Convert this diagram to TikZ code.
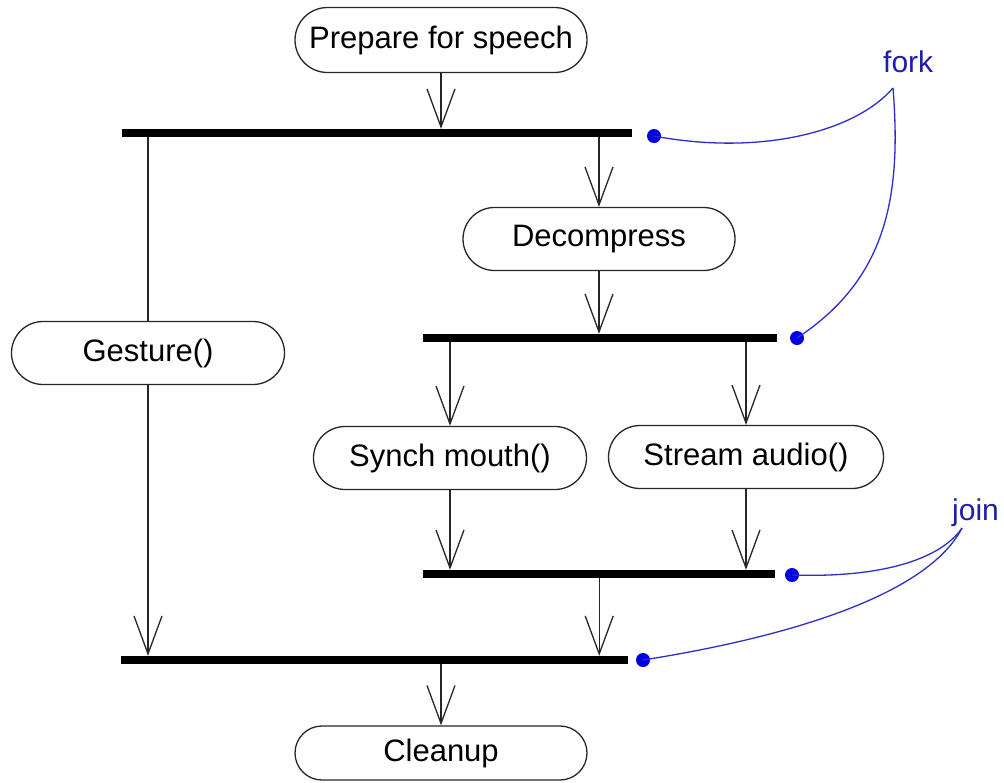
\documentclass[tikz,border=0pt]{standalone}
\usepackage{fontspec}
\setmainfont{Liberation Sans}
\usetikzlibrary{arrows.meta,shapes.misc}
\definecolor{noteblue}{RGB}{45,45,200}
\definecolor{labelblue}{RGB}{30,30,170}
\definecolor{dotblue}{RGB}{0,0,225}
\begin{document}
\begin{tikzpicture}[x=1pt,y=-1pt,
  act/.style={draw=black!85,line width=1.3pt,rounded rectangle,minimum width=273pt,minimum height=63pt,inner sep=0pt,font=\fontsize{31}{36}\selectfont},
  bar/.style={fill=black,rectangle,minimum height=8pt,inner sep=0pt,anchor=west},
  flow/.style={draw=black!85,line width=1.3pt},
  arr/.style={flow,-{Straight Barb[length=38pt,width=28pt,line width=1.3pt]}},
  note/.style={draw=noteblue,line width=1.3pt},
  ndot/.style={circle,fill=dotblue,minimum size=14pt,inner sep=0pt},
  nlabel/.style={text=labelblue,font=\fontsize{30}{36}\selectfont,inner sep=0pt}]
\useasboundingbox (0,0) rectangle (1004,782);
% activities
\node[act,minimum width=292pt,minimum height=65pt] (prep) at (441,40) {Prepare for speech};
\node[act,minimum width=272pt] (decomp) at (599,239) {Decompress};
\node[act] (gest) at (148,353) {Gesture()};
\node[act] (synch) at (450,458) {Synch mouth()};
\node[act,minimum width=275pt] (stream) at (746,457) {Stream audio()};
\node[act,minimum width=292pt,minimum height=54pt] (clean) at (441,753) {Cleanup};
% bars
\node[bar,minimum width=510pt] (bar1) at (122,133) {};
\node[bar,minimum width=354pt] (bar2) at (423,338) {};
\node[bar,minimum width=352pt] (bar3) at (423,574) {};
\node[bar,minimum width=507pt] (bar4) at (121,660) {};
% flows
\draw[arr] (prep.south) -- (prep.south |- bar1.north);
\draw[flow] (gest.north |- bar1.south) -- (gest.north);
\draw[arr] (gest.south) -- (gest.south |- bar4.north);
\draw[arr] (decomp.north |- bar1.south) -- (decomp.north);
\draw[arr] (decomp.south) -- (decomp.south |- bar2.north);
\draw[arr] (synch.north |- bar2.south) -- (synch.north);
\draw[arr] (stream.north |- bar2.south) -- (stream.north);
\draw[arr] (synch.south) -- (synch.south |- bar3.north);
\draw[arr] (stream.south) -- (stream.south |- bar3.north);
\draw[arr] (bar3.south) -- (bar3.south |- bar4.north);
\draw[arr] (clean.north |- bar4.south) -- (clean.north);
% notes
\node[nlabel,anchor=base west] (fork) at (883,72) {fork};
\node[nlabel,anchor=base west] (join) at (952,520) {join};
\coordinate (forktip) at (893,88);
\coordinate (jointip) at (962,528);
\node[ndot] (f1) at (654,136) {};
\node[ndot] (f2) at (797,338) {};
\node[ndot] (j1) at (792,575) {};
\node[ndot] (j2) at (643,660) {};
\draw[note] (f1.center) .. controls (760,156) and (855,132) .. (forktip);
\draw[note] (forktip) .. controls (902,200) and (885,280) .. (f2.center);
\draw[note] (j1.center) .. controls (880,578) and (940,560) .. (jointip);
\draw[note] (j2.center) .. controls (770,640) and (925,600) .. (jointip);
\end{tikzpicture}
\end{document}
